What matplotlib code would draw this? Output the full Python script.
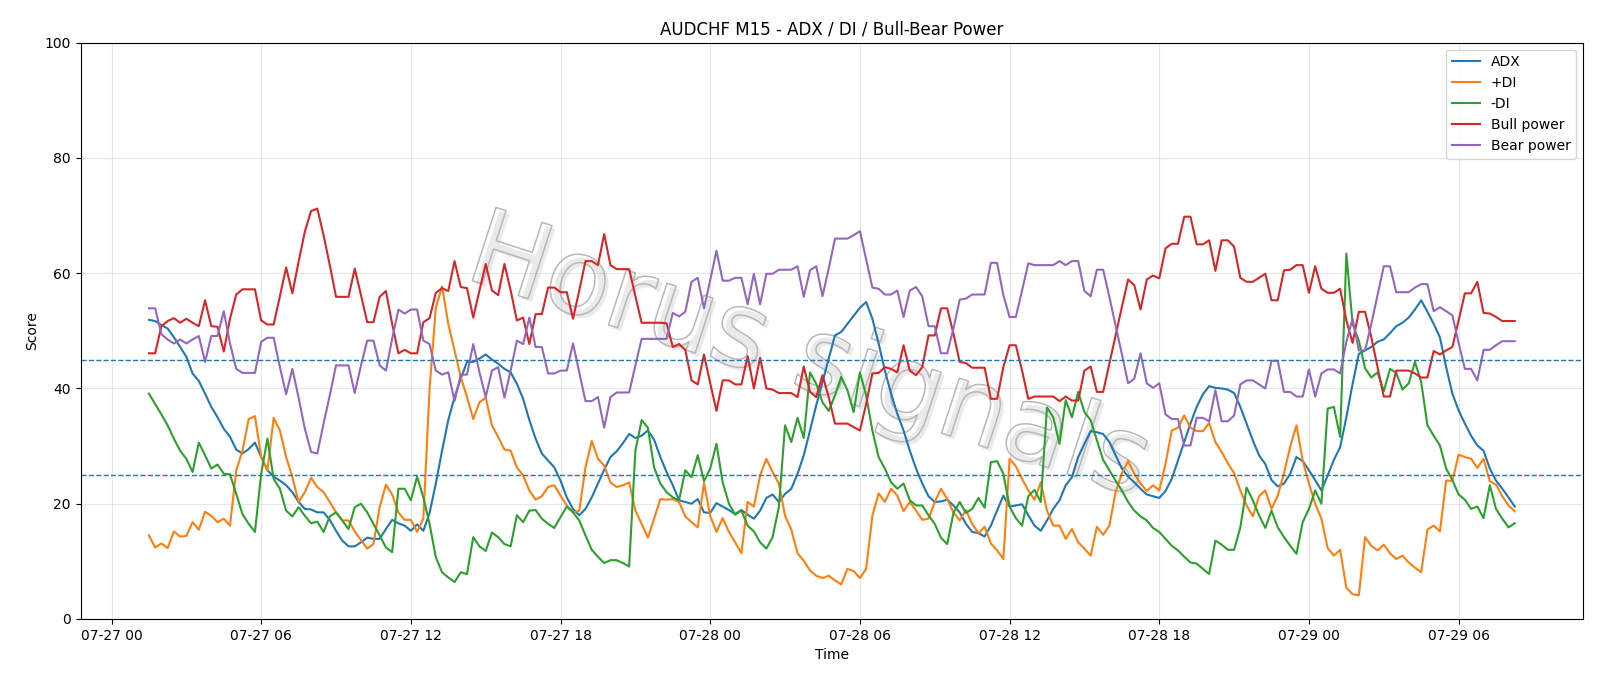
import numpy as np
import pandas as pd
import matplotlib
matplotlib.use("Agg")
import matplotlib.pyplot as plt
import matplotlib.dates as mdates
import matplotlib.patheffects as pe

# AUDCHF M15, 07-27 01:30 -> 07-29 08:15
start = "2025-07-27 01:30"

adx = [51.9, 51.7, 51.0, 50.4, 48.9, 47.2, 45.5, 42.6, 41.3, 39.1, 36.8, 35.0, 33.0, 31.6, 29.4, 28.7, 29.5, 30.6, 28.1, 25.8, 24.7, 24.0, 23.2, 22.0, 20.3, 19.1, 19.0, 18.5,
       18.5, 17.2, 15.3, 13.6, 12.6, 12.6, 13.3, 14.1, 13.9, 13.9, 15.6, 17.2, 16.6, 16.2, 15.3, 16.4, 15.3, 18.4, 23.5, 29.2, 34.5, 38.5, 41.7, 44.6, 44.6, 45.2, 45.9, 45.0,
       44.3, 43.4, 42.8, 40.8, 38.2, 34.5, 31.3, 28.7, 27.5, 26.3, 24.0, 21.1, 19.1, 18.0, 19.1, 21.1, 23.5, 25.9, 28.1, 29.1, 30.5, 32.1, 31.4, 31.8, 32.7, 31.1, 28.1, 25.5,
       23.2, 20.6, 20.3, 20.0, 20.8, 18.5, 18.4, 20.1, 19.5, 18.9, 18.2, 18.9, 18.1, 17.4, 18.8, 21.0, 21.6, 20.3, 21.7, 22.6, 25.2, 28.4, 32.7, 37.1, 41.1, 45.2, 49.2, 49.8,
       51.2, 52.6, 54.0, 55.0, 52.1, 47.8, 43.1, 39.1, 35.6, 32.7, 29.2, 26.1, 23.5, 21.3, 20.3, 20.4, 20.7, 19.7, 18.5, 16.5, 15.1, 14.9, 14.3, 16.2, 18.8, 21.4, 19.5, 19.7,
       19.9, 18.0, 16.2, 15.3, 17.1, 19.1, 20.6, 23.2, 24.6, 28.1, 30.4, 32.6, 32.4, 32.1, 30.7, 28.4, 26.1, 24.7, 23.7, 22.6, 21.6, 21.3, 21.0, 22.2, 24.3, 27.5, 30.7, 33.9,
       36.8, 39.0, 40.4, 40.1, 40.0, 39.8, 39.2, 36.8, 33.9, 31.0, 28.4, 26.9, 24.1, 23.0, 23.5, 25.2, 28.1, 27.4, 25.8, 24.1, 22.3, 24.9, 27.6, 29.8, 35.0, 40.8, 46.0, 46.6,
       47.2, 48.1, 48.5, 49.6, 50.8, 51.4, 52.3, 53.7, 55.3, 53.3, 51.2, 48.9, 43.7, 39.1, 36.2, 33.9, 31.8, 30.1, 29.2, 26.1, 24.0, 22.6, 21.1, 19.5]

plus_di = [14.5, 12.4, 13.1, 12.3, 15.2, 14.3, 14.4, 16.8, 15.5, 18.6, 17.9, 16.8, 17.4, 16.2, 25.8, 29.2, 34.7, 35.2, 28.1, 25.8, 34.9, 32.7, 28.1, 24.6, 20.3, 22.0, 24.5, 22.9,
           22.0, 20.3, 18.5, 17.1, 17.1, 15.2, 13.7, 12.2, 13.0, 19.4, 23.3, 21.6, 18.5, 17.2, 17.2, 15.1, 17.4, 40.0, 54.0, 57.7, 51.2, 46.6, 42.0, 38.5, 34.7, 37.6, 38.4, 33.6,
           31.6, 29.4, 29.2, 26.3, 24.9, 22.3, 20.7, 21.3, 22.9, 23.2, 21.4, 19.7, 18.5, 18.8, 26.3, 30.9, 27.8, 26.6, 23.7, 22.9, 23.2, 23.7, 18.8, 16.5, 14.1, 17.4, 20.8, 20.7,
           20.8, 20.3, 17.8, 16.8, 15.9, 23.6, 17.9, 15.1, 17.5, 15.1, 13.3, 11.4, 20.3, 19.5, 24.9, 27.8, 25.5, 23.5, 17.9, 15.5, 11.4, 10.1, 8.4, 7.5, 7.1, 7.5, 6.7, 6.0,
           8.7, 8.3, 7.1, 8.7, 17.9, 21.8, 20.3, 22.6, 21.4, 18.7, 20.3, 18.8, 17.2, 17.4, 20.3, 22.6, 20.8, 18.5, 17.1, 18.9, 16.5, 14.9, 16.0, 13.1, 11.9, 10.4, 27.8, 26.5,
           24.3, 22.3, 20.7, 23.7, 18.8, 16.2, 16.2, 13.9, 15.6, 13.3, 12.2, 11.0, 16.0, 14.6, 16.2, 22.0, 25.2, 27.4, 25.2, 23.5, 22.2, 23.2, 22.3, 26.9, 32.7, 33.2, 35.3, 33.2,
           32.6, 32.6, 34.0, 30.7, 29.0, 27.0, 25.3, 22.3, 19.7, 17.8, 21.3, 22.3, 19.1, 21.4, 25.3, 29.9, 33.6, 27.5, 23.5, 20.0, 17.4, 12.3, 11.0, 12.0, 5.4, 4.3, 4.1, 14.2,
           12.7, 11.9, 12.9, 11.4, 10.4, 11.0, 9.8, 8.9, 8.1, 15.5, 16.2, 15.2, 24.0, 24.0, 28.5, 28.1, 27.8, 26.2, 27.8, 23.9, 23.3, 21.3, 19.7, 18.7]

minus_di = [39.1, 37.3, 35.5, 33.6, 31.3, 29.2, 27.8, 25.5, 30.6, 28.4, 26.1, 26.8, 25.2, 25.1, 21.7, 18.2, 16.5, 15.1, 25.2, 31.3, 24.3, 22.6, 18.8, 17.8, 19.4, 17.9, 16.6, 16.9,
            15.1, 17.8, 18.5, 17.1, 15.6, 19.4, 20.0, 18.5, 16.5, 14.5, 12.4, 11.6, 22.6, 22.6, 20.6, 24.7, 21.1, 16.5, 10.7, 8.1, 7.2, 6.4, 8.1, 7.8, 14.2, 12.6, 11.8, 15.0,
            14.2, 13.0, 12.6, 18.0, 16.8, 18.8, 18.9, 17.4, 16.5, 15.8, 17.7, 19.5, 18.5, 17.1, 14.5, 12.0, 10.8, 9.7, 10.2, 10.2, 9.7, 9.1, 29.2, 34.5, 33.2, 26.3, 23.5, 22.0,
            21.1, 20.6, 25.8, 24.6, 28.4, 23.9, 26.1, 30.4, 23.7, 20.0, 18.1, 18.8, 16.2, 15.2, 13.3, 12.2, 14.2, 19.4, 33.6, 30.7, 34.9, 31.4, 42.8, 40.8, 37.6, 36.1, 38.8, 42.0,
            39.7, 35.9, 42.8, 38.8, 32.7, 28.1, 26.1, 23.7, 22.6, 23.5, 20.6, 19.7, 19.7, 18.0, 16.5, 14.1, 13.0, 18.4, 20.3, 18.4, 19.1, 21.0, 19.3, 27.2, 27.4, 25.2, 19.5, 17.5,
            16.2, 21.3, 22.4, 20.3, 36.7, 35.0, 30.4, 38.0, 35.0, 39.4, 35.9, 34.5, 31.0, 27.6, 25.8, 24.0, 22.3, 20.3, 18.8, 17.8, 17.1, 15.8, 15.1, 13.9, 12.7, 11.9, 10.8, 9.8,
            9.6, 8.7, 7.8, 13.6, 12.9, 12.0, 12.0, 15.9, 22.8, 20.6, 18.0, 15.8, 18.8, 15.9, 14.2, 12.7, 11.3, 16.8, 19.1, 22.3, 20.0, 36.5, 36.8, 31.6, 63.4, 51.2, 48.3, 43.5,
            41.9, 42.8, 39.5, 43.4, 42.7, 39.8, 40.9, 44.6, 41.1, 33.6, 31.8, 30.1, 26.1, 24.1, 21.6, 20.7, 19.1, 19.5, 17.5, 23.2, 19.1, 17.4, 15.9, 16.6]

bull = [46.1, 46.1, 50.8, 51.7, 52.2, 51.4, 52.1, 51.4, 50.8, 55.3, 50.8, 50.7, 46.4, 52.1, 56.3, 57.2, 57.2, 57.2, 51.8, 51.1, 51.1, 56.0, 61.0, 56.5, 62.0, 67.2, 70.8, 71.2,
        66.6, 61.4, 55.9, 55.9, 55.9, 60.8, 56.2, 51.5, 51.5, 55.9, 56.9, 51.2, 46.1, 46.7, 46.1, 46.1, 51.5, 52.2, 56.6, 57.4, 56.9, 62.1, 57.6, 57.4, 52.3, 57.0, 61.6, 57.0,
        56.2, 61.6, 57.0, 51.8, 52.3, 47.7, 52.9, 52.9, 57.5, 57.5, 56.7, 56.7, 52.1, 57.0, 62.1, 62.1, 61.4, 66.8, 61.4, 60.7, 60.7, 60.7, 56.0, 51.4, 51.4, 51.4, 51.4, 51.3,
        47.2, 47.7, 46.7, 41.4, 40.7, 45.9, 40.9, 36.1, 41.4, 41.4, 40.7, 40.7, 45.6, 40.0, 45.3, 40.0, 39.8, 39.2, 39.2, 39.2, 38.5, 43.8, 39.4, 38.5, 42.3, 38.5, 33.9, 33.9,
        33.9, 33.3, 32.7, 37.3, 42.6, 42.7, 43.7, 43.4, 42.8, 47.5, 43.1, 42.3, 43.7, 49.2, 49.2, 53.9, 53.9, 49.5, 44.6, 44.4, 43.6, 43.6, 43.6, 38.2, 38.2, 43.7, 47.5, 47.5,
        43.1, 38.2, 38.6, 38.6, 38.6, 38.6, 37.8, 38.6, 37.9, 37.9, 43.1, 43.8, 39.4, 39.4, 44.3, 49.2, 54.1, 58.9, 57.9, 53.7, 58.9, 59.6, 59.1, 64.3, 65.1, 65.1, 69.8, 69.8,
        65.0, 65.0, 65.7, 60.4, 65.7, 65.7, 64.6, 59.2, 58.5, 58.5, 59.2, 59.9, 55.3, 55.3, 60.5, 60.6, 61.4, 61.4, 56.6, 61.2, 57.3, 56.6, 56.6, 57.3, 51.8, 47.9, 53.3, 53.3,
        48.9, 43.7, 38.6, 38.6, 43.1, 43.1, 43.1, 42.6, 41.9, 41.9, 46.5, 45.9, 46.6, 47.2, 51.8, 56.5, 56.5, 58.5, 53.1, 53.0, 52.4, 51.7, 51.7, 51.7]

bear = [53.9, 53.9, 49.4, 48.5, 47.8, 48.5, 47.8, 48.5, 49.1, 44.6, 49.1, 49.1, 53.4, 47.8, 43.4, 42.7, 42.7, 42.7, 48.1, 48.8, 48.8, 43.7, 39.0, 43.4, 38.4, 33.0, 29.0, 28.7,
        33.9, 38.8, 44.0, 44.0, 44.0, 39.2, 44.0, 48.3, 48.3, 44.0, 43.1, 48.6, 53.7, 53.0, 53.7, 53.7, 48.3, 47.7, 43.1, 42.4, 42.8, 37.8, 42.4, 42.4, 47.7, 42.8, 38.5, 43.1,
        43.7, 38.4, 43.1, 48.3, 47.7, 52.3, 47.2, 47.2, 42.6, 42.6, 43.1, 43.1, 47.8, 42.8, 37.8, 37.8, 38.5, 33.2, 38.5, 39.3, 39.3, 39.3, 44.0, 48.6, 48.6, 48.6, 48.6, 48.6,
        53.1, 52.5, 53.3, 58.5, 59.2, 53.9, 58.8, 63.9, 58.7, 58.7, 59.2, 59.2, 54.6, 59.9, 54.6, 59.9, 59.9, 60.6, 60.6, 60.6, 61.2, 55.9, 60.5, 61.2, 56.0, 60.8, 66.0, 66.0,
        66.0, 66.6, 67.3, 62.4, 57.5, 57.3, 56.3, 56.3, 57.0, 52.4, 57.0, 57.6, 56.0, 50.8, 50.8, 46.1, 46.1, 50.4, 55.4, 55.6, 56.3, 56.3, 56.3, 61.8, 61.8, 56.2, 52.4, 52.4,
        57.0, 61.7, 61.4, 61.4, 61.4, 61.4, 62.1, 61.4, 62.1, 62.1, 56.9, 56.0, 60.6, 60.6, 55.9, 50.9, 46.0, 40.9, 41.7, 46.1, 40.9, 40.1, 40.9, 35.5, 34.7, 34.7, 30.1, 30.1,
        34.9, 34.9, 34.3, 39.7, 34.3, 34.3, 35.3, 40.7, 41.4, 41.4, 40.7, 40.0, 44.8, 44.8, 39.4, 39.4, 38.6, 38.6, 43.3, 38.6, 42.6, 43.3, 43.3, 42.6, 48.1, 52.1, 46.6, 46.6,
        51.2, 56.2, 61.2, 61.2, 56.7, 56.7, 56.7, 57.5, 58.1, 58.1, 53.4, 54.1, 53.4, 52.7, 47.9, 43.4, 43.4, 41.4, 46.7, 46.7, 47.5, 48.2, 48.2, 48.2]

levels = [25, 45]

t = pd.date_range(start, periods=len(adx), freq="15min")
df = pd.DataFrame({"ADX": adx, "+DI": plus_di, "-DI": minus_di,
                   "Bull power": bull, "Bear power": bear}, index=t)

fig, ax = plt.subplots(figsize=(16, 6.86), dpi=100)
fig.subplots_adjust(left=0.0504, right=0.9894, top=0.9378, bottom=0.0977)

for col in df.columns:
    ax.plot(df.index, df[col], label=col, lw=1.5)

for lv in levels:
    ax.axhline(lv, color="tab:blue", linestyle="--", lw=1)

# watermark: thin grey outline letters with a soft filled shadow
wm = ax.text(0.485, 0.45, "Horus signals", transform=ax.transAxes,
             fontsize=76, rotation=-18, ha="center", va="center",
             color="none", zorder=0.5)
wm.set_path_effects([pe.SimplePatchShadow(offset=(2.5, -2.5), shadow_rgbFace="#dcdcdc", alpha=0.6),
                     pe.Stroke(linewidth=1.1, foreground="#b8b8b8")])

ax.set_ylim(0, 100)
ax.set_title("AUDCHF M15 - ADX / DI / Bull-Bear Power")
ax.set_xlabel("Time")
ax.set_ylabel("Score")
ax.grid(True, alpha=0.3)
ax.xaxis.set_major_locator(mdates.HourLocator(byhour=[0, 6, 12, 18]))
ax.xaxis.set_major_formatter(mdates.DateFormatter("%m-%d %H"))
ax.legend(loc="upper right")

fig.savefig("out.png", dpi=100)
